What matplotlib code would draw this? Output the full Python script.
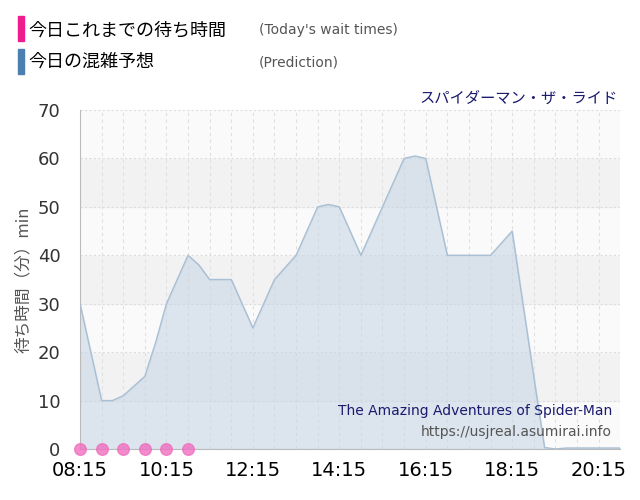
import matplotlib
matplotlib.use("Agg")
import matplotlib.pyplot as plt
import numpy as np

plt.rcParams['font.family'] = ['Noto Sans CJK JP', 'DejaVu Sans']

# minutes after 08:15, every 15 minutes
pred = [30, 20, 10, 10, 11, 13, 15, 22, 30, 35, 40, 38, 35, 35, 35, 30, 25, 30, 35, 37.5,
        40, 45, 50, 50.5, 50, 45, 40, 45, 50, 55, 60, 60.5, 60, 50, 40, 40, 40, 40, 40, 42.5,
        45, 30, 15, 0.3, 0, 0.2, 0.2, 0.2, 0.2, 0.2, 0.2]
actual = [0, 0, 0, 0, 0, 0]
actual_t = [0, 30, 60, 90, 120, 150]
tick_labels = ["08:15", "10:15", "12:15", "14:15", "16:15", "18:15", "20:15"]
ride_jp = "スパイダーマン・ザ・ライド"
ride_en = "The Amazing Adventures of Spider-Man"

t = np.arange(len(pred)) * 15

fig = plt.figure(figsize=(6.4, 5.0), dpi=100)
ax = fig.add_axes([0.125, 0.102, 0.844, 0.678])
xmax = 750
ax.set_xlim(0, xmax)
ax.set_ylim(0, 70)
for i in range(7):
    ax.axhspan(i*10, (i+1)*10, color='#f2f2f2' if i % 2 else '#fafafa', zorder=0)
for y in range(10, 71, 10):
    ax.axhline(y, color='#dddddd', lw=0.8, ls=(0, (2, 2)), zorder=1)
for x in range(30, xmax, 30):
    ax.axvline(x, color='#e0e0e0', lw=0.8, ls=(0, (3, 3)), zorder=1)

ax.fill_between(t, pred, color='#c5d5e4', alpha=0.55, zorder=2)
ax.plot(t, pred, color='#a9bfd4', lw=1, zorder=3)
ax.scatter(actual_t, actual, s=70, color='#f06ec0', alpha=0.8, zorder=4, clip_on=False)

ax.set_xticks(np.arange(0, 721, 120))
ax.set_xticklabels(tick_labels, fontsize=14, family='DejaVu Sans')
ax.set_yticks(range(0, 71, 10))
for lab in ax.get_yticklabels():
    lab.set_family('DejaVu Sans')
ax.tick_params(axis='y', labelsize=13, colors='#333333', length=0, pad=14)
ax.tick_params(axis='x', length=0, labelsize=14, pad=9)
for s in ['top', 'right']:
    ax.spines[s].set_visible(False)
ax.spines['left'].set_color('#bbbbbb')
ax.spines['bottom'].set_color('#bbbbbb')
ax.set_ylabel("待ち時間（分）min", fontsize=12, color='#555555', labelpad=4)

ax.text(0.995, 1.01, ride_jp, transform=ax.transAxes, ha='right', va='bottom', fontsize=11, color='#1a1a6e')
ax.text(0.985, 0.09, ride_en, transform=ax.transAxes, ha='right', va='bottom', fontsize=10, color='#1a1a6e', family='DejaVu Sans')
ax.text(0.985, 0.03, "https://usjreal.asumirai.info", transform=ax.transAxes, ha='right', va='bottom', fontsize=10, color='#555555', family='DejaVu Sans')

fig.patches.append(plt.Rectangle((0.028, 0.918), 0.009, 0.05, transform=fig.transFigure, color='#ee1c8c'))
fig.patches.append(plt.Rectangle((0.028, 0.852), 0.009, 0.05, transform=fig.transFigure, color='#4a7fb0'))
fig.text(0.045, 0.94, "今日これまでの待ち時間", fontsize=13, va='center')
fig.text(0.405, 0.94, "(Today's wait times)", fontsize=10, va='center', color='#555555', family='DejaVu Sans')
fig.text(0.045, 0.876, "今日の混雑予想", fontsize=13, va='center')
fig.text(0.405, 0.876, "(Prediction)", fontsize=10, va='center', color='#555555', family='DejaVu Sans')

fig.savefig("out.png", dpi=100)
